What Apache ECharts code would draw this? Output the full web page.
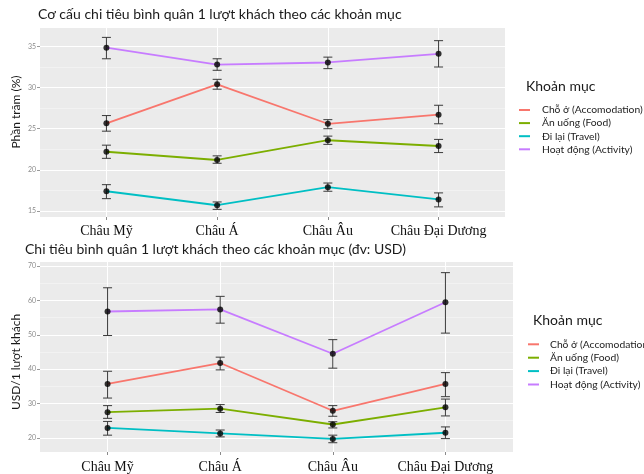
<!DOCTYPE html>
<html><head><meta charset="utf-8">
<script src="https://cdn.jsdelivr.net/npm/echarts@6/dist/echarts.min.js"></script>
<style>html,body{margin:0;padding:0;background:#fff}#c{width:644px;height:474px}</style>
</head><body><div id="c"></div>
<script>
const categories = ['Châu Mỹ', 'Châu Á', 'Châu Âu', 'Châu Đại Dương'];
const seriesNames = ['Chỗ ở (Accomodation)', 'Ăn uống (Food)', 'Đi lại (Travel)', 'Hoạt động (Activity)'];
const colors = ['#F8766D', '#7CAE00', '#00BFC4', '#C77CFF'];

// Panel 1: percentage share
const pctMean = {
  acc:  [25.65, 30.4, 25.6, 26.7],
  food: [22.2, 21.2, 23.6, 22.9],
  trav: [17.4, 15.7, 17.9, 16.4],
  act:  [34.85, 32.8, 33.05, 34.1]
};
const pctLow = {
  acc:  [24.7, 29.8, 25.0, 25.6],
  food: [21.4, 20.8, 23.1, 22.1],
  trav: [16.5, 15.2, 17.4, 15.5],
  act:  [33.5, 32.1, 32.3, 32.5]
};
const pctHigh = {
  acc:  [26.6, 31.0, 26.1, 27.85],
  food: [23.0, 21.7, 24.1, 23.7],
  trav: [18.2, 16.1, 18.4, 17.2],
  act:  [36.1, 33.5, 33.7, 35.7]
};
const pctTicks = [15, 20, 25, 30, 35];
const pctMinor = [17.5, 22.5, 27.5, 32.5];

// Panel 2: USD per visitor
const usdMean = {
  acc:  [35.7, 41.8, 27.9, 35.7],
  food: [27.5, 28.5, 23.9, 28.9],
  trav: [22.9, 21.3, 19.7, 21.5],
  act:  [56.8, 57.4, 44.5, 59.5]
};
const usdLow = {
  acc:  [31.6, 39.8, 26.3, 32.0],
  food: [25.7, 27.4, 22.9, 26.4],
  trav: [20.8, 20.3, 18.6, 19.8],
  act:  [49.8, 53.4, 40.3, 50.5]
};
const usdHigh = {
  acc:  [39.4, 43.5, 29.4, 39.0],
  food: [29.4, 29.7, 24.7, 31.3],
  trav: [24.8, 22.3, 20.8, 23.2],
  act:  [63.7, 61.2, 48.6, 68.1]
};
const usdTicks = [20, 30, 40, 50, 60, 70];
const usdMinor = [25, 35, 45, 55, 65];

const keys = ['acc', 'food', 'trav', 'act'];
const catPos = categories.map((c, i) => i + 1);

const SANS = 'Lato, "Open Sans", sans-serif';

function xAxisDef(gi, margin) {
  return {
    type: 'value', gridIndex: gi, min: 0.4, max: 4.6,
    axisLine: { show: false },
    axisTick: { show: true, length: 3, lineStyle: { color: '#8a8a8a' }, customValues: catPos },
    axisLabel: { customValues: catPos, formatter: v => categories[Math.round(v) - 1] || '',
      fontFamily: '"Liberation Serif", "DejaVu Serif", serif', fontSize: 14, color: '#111', margin: margin },
    splitLine: { show: true, lineStyle: { color: '#ffffff', width: 1 } }
  };
}
function yAxisDef(gi, min, max, ticks) {
  return {
    type: 'value', gridIndex: gi, min: min, max: max,
    axisLine: { show: false },
    axisTick: { show: true, length: 3, lineStyle: { color: '#9a9a9a' }, customValues: ticks },
    axisLabel: { customValues: ticks, fontSize: 7, color: '#8c8c8c', margin: 4, fontFamily: SANS },
    splitLine: { show: true, lineStyle: { color: '#ffffff', width: 1.1 } }
  };
}
function yMinorDef(gi, min, max, minor) {
  return {
    type: 'value', gridIndex: gi, min: min, max: max,
    axisLine: { show: false }, axisLabel: { show: false },
    axisTick: { show: false, customValues: minor },
    splitLine: { show: true, lineStyle: { color: '#f6f6f6', width: 0.6 } }
  };
}

function errorSeries(name, xi, yi, low, high) {
  return {
    type: 'custom', name: name, xAxisIndex: xi, yAxisIndex: yi, z: 1, silent: true,
    data: low.map((l, i) => [catPos[i], l, high[i]]),
    renderItem: function (params, api) {
      const x = api.value(0);
      const p1 = api.coord([x, api.value(1)]);
      const p2 = api.coord([x, api.value(2)]);
      const w = 4.5;
      const st = { stroke: '#3a3a3a', lineWidth: 1 };
      return { type: 'group', children: [
        { type: 'line', shape: { x1: p1[0], y1: p1[1], x2: p2[0], y2: p2[1] }, style: st },
        { type: 'line', shape: { x1: p1[0] - w, y1: p1[1], x2: p1[0] + w, y2: p1[1] }, style: st },
        { type: 'line', shape: { x1: p2[0] - w, y1: p2[1], x2: p2[0] + w, y2: p2[1] }, style: st }
      ]};
    }
  };
}

const series = [];
function addPanel(xi, yi, mean, low, high) {
  keys.forEach((k, j) => {
    series.push(errorSeries(seriesNames[j], xi, yi, low[k], high[k]));
  });
  keys.forEach((k, j) => {
    series.push({
      type: 'line', name: seriesNames[j], xAxisIndex: xi, yAxisIndex: yi, z: 2,
      data: mean[k].map((v, i) => [catPos[i], v]),
      showSymbol: false, symbol: 'none', silent: true,
      lineStyle: { color: colors[j], width: 1.8 }, itemStyle: { color: colors[j] }
    });
  });
  keys.forEach((k, j) => {
    series.push({
      type: 'scatter', name: 'pt' + xi + j, xAxisIndex: xi, yAxisIndex: yi, z: 3,
      data: mean[k].map((v, i) => [catPos[i], v]), symbolSize: 6, silent: true,
      itemStyle: { color: '#000' }
    });
  });
}
addPanel(0, 0, pctMean, pctLow, pctHigh);
addPanel(1, 2, usdMean, usdLow, usdHigh);

const legendData = seriesNames.map((n, j) => ({ name: n, icon: 'rect', itemStyle: { color: colors[j] } }));

const option = {
  backgroundColor: '#ffffff',
  animation: false,
  grid: [
    { left: 40, top: 28, width: 465, height: 189, show: true, backgroundColor: '#EBEBEB', borderWidth: 0 },
    { left: 40, top: 262, width: 473, height: 190, show: true, backgroundColor: '#EBEBEB', borderWidth: 0 }
  ],
  xAxis: [xAxisDef(0, 7), xAxisDef(1, 8)],
  yAxis: [
    yAxisDef(0, 14.27, 37.24, pctTicks),
    yMinorDef(0, 14.27, 37.24, pctMinor),
    yAxisDef(1, 15.9, 71.2, usdTicks),
    yMinorDef(1, 15.9, 71.2, usdMinor)
  ],
  title: [
    { text: 'Cơ cấu chi tiêu bình quân 1 lượt khách theo các khoản mục', left: 33, top: 2,
      textStyle: { fontFamily: SANS, fontSize: 14, fontWeight: 'normal', color: '#1a1a1a' } },
    { text: 'Chi tiêu bình quân 1 lượt khách theo các khoản mục (đv: USD)', left: 20, top: 237,
      textStyle: { fontFamily: SANS, fontSize: 14, fontWeight: 'normal', color: '#1a1a1a' } },
    { text: 'Khoản mục', left: 521, top: 74,
      textStyle: { fontFamily: SANS, fontSize: 14, fontWeight: 'normal', color: '#1a1a1a' } },
    { text: 'Khoản mục', left: 528, top: 308,
      textStyle: { fontFamily: SANS, fontSize: 14, fontWeight: 'normal', color: '#1a1a1a' } }
  ],
  legend: [
    { data: legendData, orient: 'vertical', left: 519, top: 103.5, itemWidth: 11, itemHeight: 2,
      itemGap: 0.1, selectedMode: false, padding: 0,
      textStyle: { fontFamily: SANS, fontSize: 10.3, lineHeight: 13, color: '#222', padding: [0, 0, 0, 7] } },
    { data: legendData, orient: 'vertical', left: 528, top: 337.8, itemWidth: 11, itemHeight: 2,
      itemGap: 0.4, selectedMode: false, padding: 0,
      textStyle: { fontFamily: SANS, fontSize: 10.3, lineHeight: 13, color: '#222', padding: [0, 0, 0, 6] } }
  ],
  graphic: [
    { type: 'text', x: 16, y: 112, rotation: Math.PI / 2,
      style: { text: 'Phần trăm (%)', fontFamily: SANS, fontSize: 12, fill: '#1a1a1a', align: 'center', verticalAlign: 'middle' } },
    { type: 'text', x: 16, y: 362, rotation: Math.PI / 2,
      style: { text: 'USD/1 lượt khách', fontFamily: SANS, fontSize: 12, fill: '#1a1a1a', align: 'center', verticalAlign: 'middle' } }
  ],
  series: series
};
const chart = echarts.init(document.getElementById('c'), null, { renderer: 'canvas' });
chart.setOption(option);
</script></body></html>
